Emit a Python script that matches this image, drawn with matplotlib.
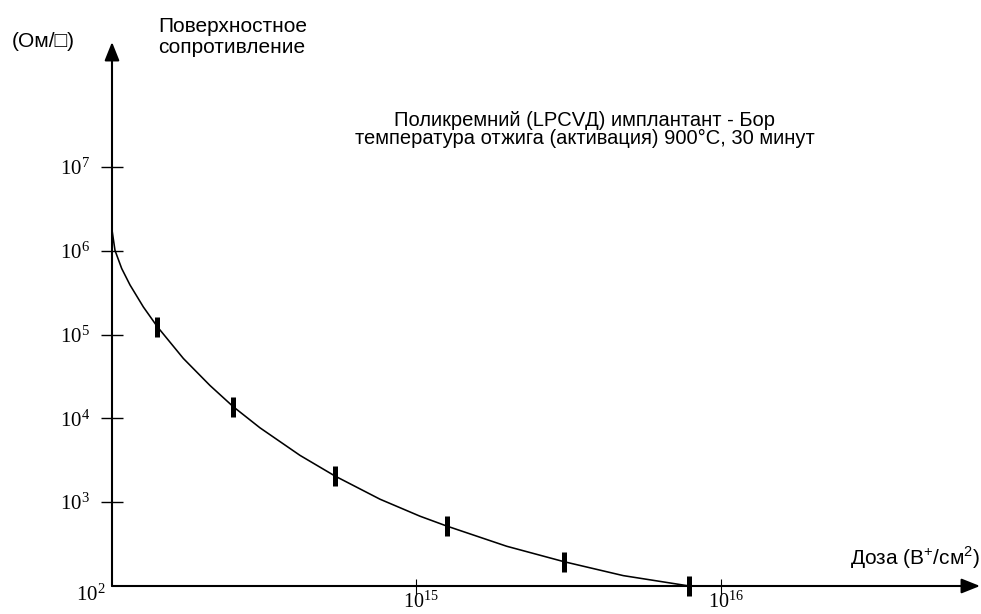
import matplotlib
matplotlib.use("Agg")
import matplotlib.pyplot as plt
from matplotlib.ticker import NullLocator
from matplotlib.transforms import ScaledTranslation

# Sheet resistance of boron-implanted LPCVD polysilicon vs. implant dose
dose_curve = [1.00e14, 1.023e14, 1.076e14, 1.146e14, 1.268e14, 1.409e14,
              1.716e14, 2.099e14, 2.503e14, 3.064e14, 4.148e14, 5.404e14,
              7.597e14, 1.028e15, 1.258e15, 1.982e15, 3.058e15, 4.788e15,
              7.892e15]
rs_curve = [1.77e6, 1.01e6, 6.15e5, 3.91e5, 2.135e5, 1.243e5,
            5.19e4, 2.47e4, 1.379e4, 7.72e3, 3.62e3, 2.054e3,
            1.086e3, 681, 520, 298, 195, 133,
            100]

dose_meas = [1.409e14, 2.503e14, 5.404e14, 1.258e15, 3.058e15, 7.892e15]
rs_meas = [1.243e5, 1.379e4, 2.054e3, 520, 195, 100]

y_ticks = [1e3, 1e4, 1e5, 1e6, 1e7]
y_tick_labels = [r"$\mathregular{10^{3}}$", r"$\mathregular{10^{4}}$",
                 r"$\mathregular{10^{5}}$", r"$\mathregular{10^{6}}$",
                 r"$\mathregular{10^{7}}$"]
y_origin_label = r"$\mathregular{10^{2}}$"
x_ticks = [1e15, 1e16]
x_tick_labels = [r"$\mathregular{10^{15}}$", r"$\mathregular{10^{16}}$"]

title_lines = ["Поликремний (LPCVД) имплантант - Бор",
               "температура отжига (активация) 900°C, 30 минут"]
y_unit = "(Ом/□)"
y_name = ["Поверхностное", "сопротивление"]
x_name = r"Доза (B$^{\mathregular{+}}$/см$^{\mathregular{2}}$)"

W, H = 981, 614
fig = plt.figure(figsize=(W / 100, H / 100), dpi=100)
fig.patch.set_facecolor("white")


def fx(px):
    return px / W


def fy(py):
    return 1 - py / H


ax_l, ax_r, ax_t, ax_b = 112, 980, 42, 586
ax = fig.add_axes([fx(ax_l), fy(ax_b), (ax_r - ax_l) / W, (ax_b - ax_t) / H])
ax.set_xscale("log")
ax.set_yscale("log")
px_per_dec_x = 304.3
px_per_dec_y = 83.8
ax.set_xlim(1e14, 10 ** (14 + (ax_r - ax_l) / px_per_dec_x))
ax.set_ylim(1e2, 10 ** (2 + (ax_b - ax_t) / px_per_dec_y))
for s in ax.spines.values():
    s.set_visible(False)
ax.set_facecolor("none")

# axis arrows
arrow_kw = dict(arrowstyle="-|>,head_length=0.75,head_width=0.3",
                mutation_scale=15, lw=1.5, color="black",
                shrinkA=0, shrinkB=0)
ax.annotate("", xy=(0, 1), xytext=(0, 0), xycoords="axes fraction",
            arrowprops=arrow_kw, annotation_clip=False)
ax.annotate("", xy=(1, 0), xytext=(0, 0), xycoords="axes fraction",
            arrowprops=arrow_kw, annotation_clip=False)

# ticks
ax.set_yticks(y_ticks, labels=y_tick_labels)
ax.set_xticks(x_ticks, labels=x_tick_labels)
ax.xaxis.set_minor_locator(NullLocator())
ax.yaxis.set_minor_locator(NullLocator())
ax.tick_params(axis="y", direction="inout", length=15.8, width=1.0, pad=8,
               labelsize=15, colors="black")
ax.tick_params(axis="x", direction="inout", length=10.8, width=0.8, pad=1,
               labelsize=14.5, colors="black")
for lab in ax.get_yticklabels() + ax.get_xticklabels():
    lab.set_fontfamily("Liberation Serif")
shift = ScaledTranslation(0.05, 0.03, fig.dpi_scale_trans)
for lab in ax.get_xticklabels():
    lab.set_transform(lab.get_transform() + shift)

ax.annotate(y_origin_label, xy=(1e14, 1e2), xytext=(-5, -6.5),
            textcoords="offset points", ha="right", va="center",
            fontsize=15, family="Liberation Serif", annotation_clip=False)

# fitted curve and measured points
ax.plot(dose_curve, rs_curve, color="black", lw=1.15, clip_on=False,
        solid_joinstyle="round", solid_capstyle="round")
ax.plot(dose_meas, rs_meas, ls="none", marker="|", ms=14.4, mew=3.6,
        color="black", clip_on=False)

# labels
sans = ["Liberation Sans", "DejaVu Sans"]
fig.text(fx(12), fy(47), y_unit, ha="left", va="baseline", fontsize=15,
         family=sans)
fig.text(fx(158), fy(32), y_name[0], ha="left", va="baseline", fontsize=15,
         family=sans)
fig.text(fx(158), fy(53), y_name[1], ha="left", va="baseline", fontsize=15,
         family=sans)
fig.text(fx(585), fy(126), title_lines[0], ha="center", va="baseline",
         fontsize=14.5, family=sans)
fig.text(fx(585), fy(144), title_lines[1], ha="center", va="baseline",
         fontsize=14.5, family=sans)
fig.text(fx(980), fy(565), x_name, ha="right", va="baseline", fontsize=15,
         family=sans)

fig.savefig("out.png", dpi=100, facecolor="white")
